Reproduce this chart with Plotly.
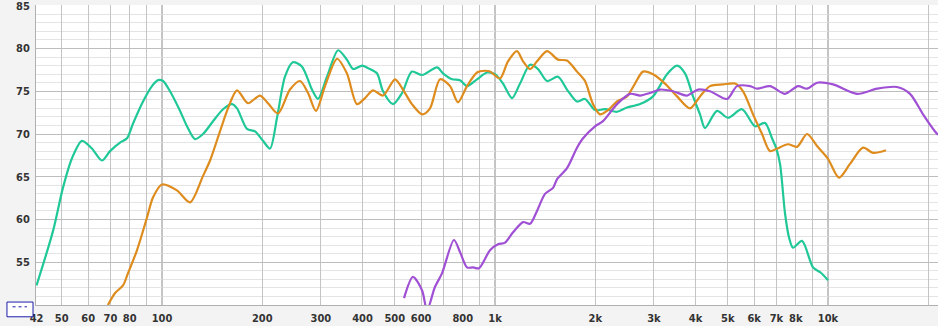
import plotly.graph_objects as go

# ---- data (frequency in Hz, level in dB) ----
green_f = [42, 47.1, 50.4, 53.7, 57.5, 61.6, 66.0, 69.8, 74.8, 78.5, 81.8, 87.7, 93.3, 97.3, 100.7,
           105.7, 113.3, 118.9, 125.6, 132.8, 142.3, 152.5, 162.3, 168.0, 180.0, 190.2, 201, 211,
           221.5, 234, 247, 263, 282, 294, 313, 338, 359, 375, 399, 416, 442, 461, 494, 526, 563,
           604, 670, 698, 743, 785, 824, 883, 946, 1000, 1057, 1125, 1189, 1274, 1346, 1433, 1546,
           1645, 1763, 1863, 1997, 2140, 2325, 2491, 2726, 2982, 3285, 3520, 3720, 3932, 4127,
           4272, 4642, 5009, 5519, 6038, 6470, 6790, 6981, 7176, 7429, 7637, 7851, 8355, 9015,
           9500, 10000]
green_db = [52.3, 58.7, 63.7, 67.2, 69.2, 68.3, 66.9, 68.0, 69.0, 69.5, 71.2, 73.8, 75.6, 76.3, 76.2,
            75.0, 72.7, 70.9, 69.4, 70.0, 71.5, 72.9, 73.5, 73.0, 70.6, 70.3, 69.2, 68.3,
            71.9, 76.7, 78.4, 77.9, 75.2, 74.1, 76.7, 79.8, 78.7, 77.6, 78.0, 77.7, 77.1, 75.0, 73.5, 74.8, 77.3,
            76.9, 77.8, 77.1, 76.4, 76.3, 75.6, 76.4, 77.2, 77.0, 75.9, 74.2, 75.9, 78.1, 77.6, 76.2, 76.7,
            75.2, 73.8, 74.1, 72.8, 72.9, 72.6, 73.1, 73.5, 74.4, 77.0, 78.0, 77.1, 74.4, 72.3,
            70.7, 72.7, 71.9, 72.9, 70.9, 71.3, 69.5, 68.4, 66.5, 60.7, 57.9, 56.7, 57.5, 54.4,
            53.8, 52.9]

orange_f = [68.8, 72.3, 76.4, 79.0, 84.1, 90.1, 94.0, 100, 110.9, 121.4, 132.8, 139.4, 149.3, 157.8,
            168.0, 181.2, 196.9, 208.1, 223, 242.3, 259.7, 274.5, 290, 308.7, 335.4, 359, 385, 407,
            430, 461, 501, 529, 563, 604, 638, 684, 733, 774, 824, 883, 933, 966, 1035, 1094, 1164,
            1214, 1274, 1337, 1433, 1546, 1645, 1763, 1863, 1969, 2067, 2185, 2325, 2491, 2633, 2783,
            2982, 3240, 3520, 3851, 4127, 4422, 4839, 5258, 5557, 5954, 6337, 6697, 7029, 7584, 8071,
            8649, 9268, 10000, 10792, 11645, 12740, 13651, 14935]
orange_db = [50.0, 51.4, 52.3, 53.7, 56.4, 60.2, 62.6, 64.1, 63.4, 62.0, 65.1, 66.9, 70.3, 73.0,
             75.1, 73.6, 74.5, 73.6, 72.4, 75.2, 76.2, 74.8, 72.7, 75.6, 78.8, 77.1, 73.5, 74.2,
             75.1, 74.5, 76.4, 75.2, 73.5, 72.3, 73.0, 76.4, 75.6, 73.7, 75.6, 77.2, 77.4, 77.3, 76.5, 78.5, 79.7,
             78.5, 77.6, 78.5, 79.7, 78.7, 78.6, 77.3, 76.2, 73.5, 72.3, 72.8, 73.8, 74.4, 75.9, 77.3,
             77.0, 75.9, 74.4, 73.0, 74.4, 75.6, 75.8, 75.9, 75.0, 72.3, 70.0, 68.0, 68.3, 68.8, 68.5,
             70.0, 68.6, 67.1, 64.9, 66.5, 68.4, 67.8, 68.1]

purple_f = [533, 567, 604, 625, 660, 693, 753, 785, 824, 859, 895, 966, 1021, 1072, 1133, 1214, 1274,
            1337, 1413, 1494, 1535, 1645, 1763, 1838, 1997, 2110, 2325, 2544, 2726, 2921, 3130, 3424,
            3772, 4071, 4422, 4975, 5331, 5832, 6121, 6697, 7429, 8127, 8649, 9268, 10353, 12221,
            14036, 16116, 17630, 19292, 20960, 21400]
purple_db = [50.8, 53.3, 51.7, 49.4, 52.1, 53.7, 57.6, 56.2, 54.4, 54.4, 54.3, 56.4, 57.1, 57.3, 58.5, 59.7, 59.5,
             61.0, 63.0, 63.7, 64.7, 66.0, 68.4, 69.5, 70.9, 71.5, 73.5, 74.7, 74.5, 74.8, 75.2, 75.0,
             74.5, 75.2, 75.0, 74.1, 75.6, 75.6, 75.3, 75.6, 74.7, 75.6, 75.3, 76.0, 75.8, 74.7,
             75.3, 75.5, 74.7, 72.3, 70.3, 69.9]

grid_f = [42, 50, 60, 70, 80, 90, 100, 200, 300, 400, 500, 600, 700, 800, 900, 1000,
          2000, 3000, 4000, 5000, 6000, 7000, 8000, 9000, 10000, 20000]
grid_text = ["42", "50", "60", "70", "80", "", "100", "200", "300", "400", "500", "600", "", "800", "",
             "1k", "2k", "3k", "4k", "5k", "6k", "7k", "8k", "", "10k", ""]
decades = [100, 1000, 10000]
y_ticks = [55, 60, 65, 70, 75, 80, 85]

GREEN = "rgb(32,200,152)"
ORANGE = "rgb(222,140,30)"
PURPLE = "rgb(160,80,212)"

fig = go.Figure()
for f, db, c in [(green_f, green_db, GREEN), (orange_f, orange_db, ORANGE), (purple_f, purple_db, PURPLE)]:
    fig.add_trace(go.Scatter(x=f, y=db, mode="lines",
                             line=dict(color=c, width=2.2, shape="spline", smoothing=0.8),
                             hoverinfo="skip", showlegend=False))

for d in decades:
    fig.add_shape(type="line", xref="x", yref="paper", x0=d, x1=d, y0=0, y1=1,
                  line=dict(color="#8a8a8a", width=1), layer="below")

# small widget box at lower left
fig.add_shape(type="rect", xref="paper", yref="paper", x0=-0.0322, x1=-0.0033, y0=-0.0393, y1=0.0098,
              line=dict(color="#1c1ca8", width=1), fillcolor="white", layer="above")
fig.add_shape(type="line", xref="paper", yref="paper", x0=-0.026, x1=-0.010, y0=-0.006, y1=-0.006,
              line=dict(color="#1c1ca8", width=1, dash="dot"), layer="above")

font = dict(family="DejaVu Sans Condensed", size=11, color="#333333", weight="bold")
fig.update_layout(
    width=938, height=326,
    margin=dict(l=36, r=0, t=0, b=21),
    paper_bgcolor="#f3f3f3", plot_bgcolor="white",
    font=font,
    xaxis=dict(type="log", range=[1.6216, 4.3303], tickvals=grid_f, ticktext=grid_text,
               showgrid=True, gridcolor="#c4c4c4", gridwidth=1, zeroline=False,
               showline=True, linecolor="#b0b0b0", ticks="", tickfont=font, ticklabelstandoff=3,
               ticklabeloverflow="allow"),
    yaxis=dict(range=[50, 85.09], tickvals=y_ticks, showgrid=True, gridcolor="#bdbdbd", gridwidth=1,
               zeroline=False, showline=True, linecolor="#b0b0b0", ticks="", tickfont=font,
               ticklabeloverflow="allow", ticklabelstandoff=3,
               minor=dict(dtick=1, showgrid=True, gridcolor="#e4e4e4", gridwidth=1)),
)

fig.write_html("out.html")
